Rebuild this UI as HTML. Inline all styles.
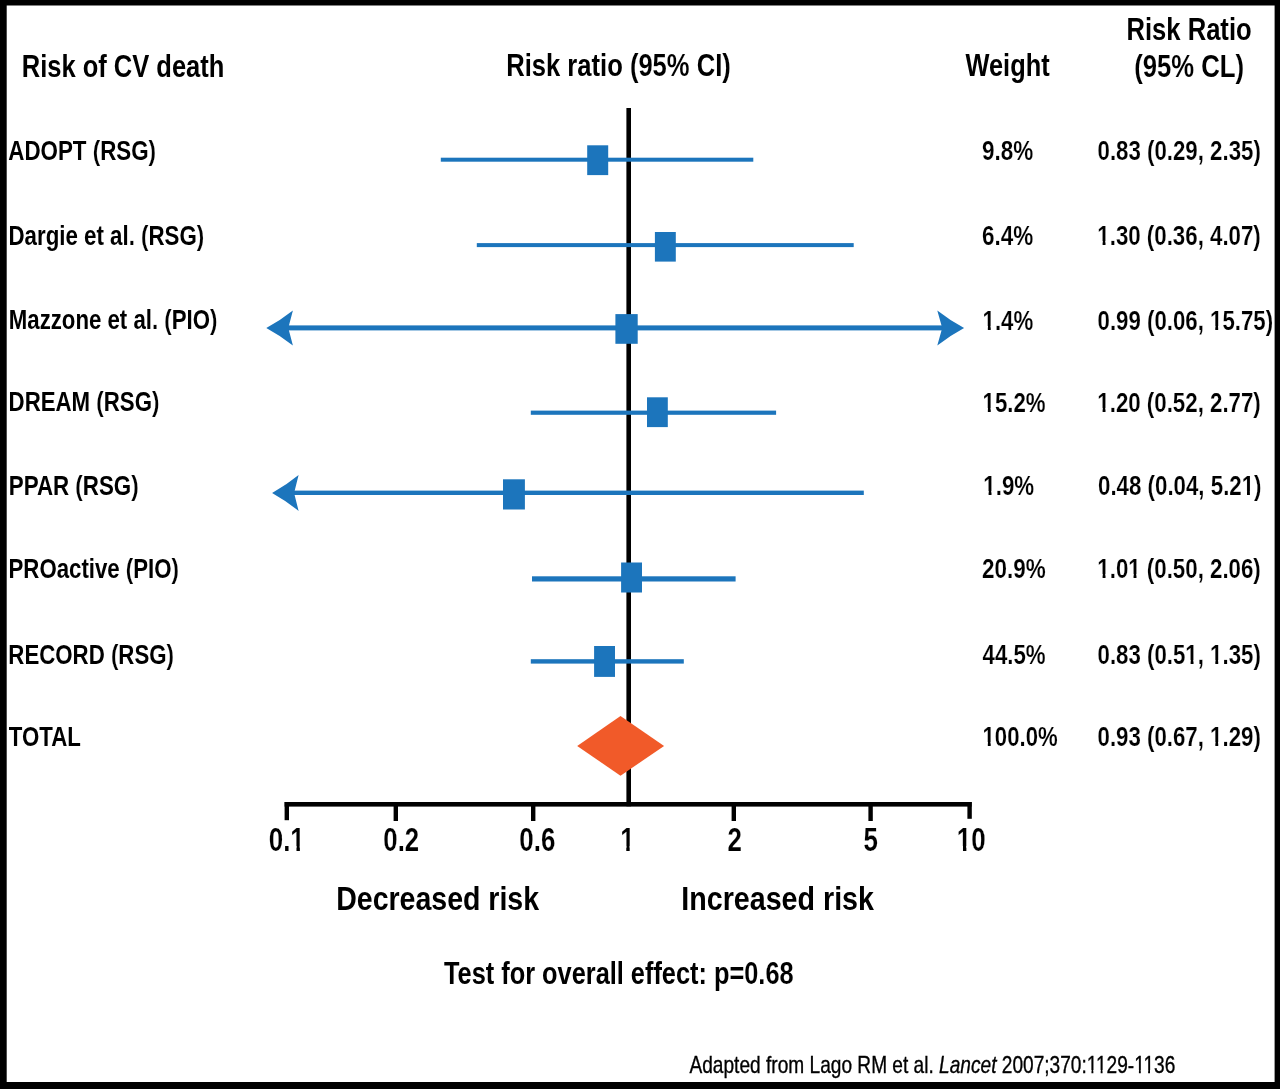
<!DOCTYPE html>
<html lang="en">
<head>
<meta charset="utf-8">
<title>Risk of CV death - forest plot</title>
<style>
html,body{margin:0;padding:0;background:#000;}
body{width:1280px;height:1089px;overflow:hidden;}
svg{display:block;}
text{font-family:"Liberation Sans", sans-serif;fill:#000;font-weight:bold;}
/* hairline white outlines trim the slightly heavy bold digits and brackets */
.c,.d{stroke:#fff;vector-effect:non-scaling-stroke;}
.c{stroke-width:0.1px;}.d{stroke-width:0.16px;}
.n{font-weight:normal;stroke:#000;stroke-width:0.35px;}
.n tspan{font-style:italic;}
</style>
</head>
<body>
<svg width="1280" height="1089" viewBox="0 0 1280 1089" role="img" aria-label="Forest plot: risk of CV death, risk ratio with 95% CI">
<rect x="0" y="0" width="1280" height="1089" fill="#000"/>
<rect x="6.7" y="5.5" width="1267.9" height="1076.5" fill="#fff"/>
<rect x="626.4" y="108" width="4.6" height="698.3" fill="#000"/>
<rect x="284.6" y="802" width="687" height="4.6" fill="#000"/>
<rect x="284.6" y="802" width="4.4" height="18.2" fill="#000"/>
<rect x="393.6" y="802" width="4.4" height="19.0" fill="#000"/>
<rect x="531.0" y="802" width="4.4" height="19.0" fill="#000"/>
<rect x="731.6" y="802" width="4.4" height="19.0" fill="#000"/>
<rect x="868.4" y="802" width="4.4" height="19.0" fill="#000"/>
<rect x="967.4" y="802" width="4.4" height="16.8" fill="#000"/>
<rect x="440.8" y="157.70" width="312.50" height="4.0" fill="#1c75bc"/>
<rect x="587.2" y="145.3" width="21.00" height="29.80" fill="#1c75bc"/>
<rect x="476.8" y="243.10" width="376.90" height="4.0" fill="#1c75bc"/>
<rect x="654.9" y="232.0" width="20.90" height="29.60" fill="#1c75bc"/>
<rect x="288" y="325.40" width="655.00" height="5.0" fill="#1c75bc"/>
<rect x="615.4" y="314.1" width="22.30" height="29.70" fill="#1c75bc"/>
<path d="M266.3 328.0 Q280.8 320.1 292.9 310.5 L288.3 328.0 L292.9 345.5 Q280.8 335.9 266.3 328.0Z" fill="#1c75bc"/>
<path d="M964.1 328.0 Q949.5 320.1 937.3 310.5 L942.2 328.0 L937.3 345.5 Q949.5 335.9 964.1 328.0Z" fill="#1c75bc"/>
<rect x="530.8" y="410.60" width="245.30" height="4.2" fill="#1c75bc"/>
<rect x="647.0" y="397.3" width="20.80" height="29.80" fill="#1c75bc"/>
<rect x="294" y="490.60" width="569.80" height="4.4" fill="#1c75bc"/>
<rect x="503.0" y="479.3" width="21.90" height="30.20" fill="#1c75bc"/>
<path d="M272.1 492.9 Q286.6 484.8 298.6 474.9 L294.1 492.9 L298.6 510.9 Q286.6 501.0 272.1 492.9Z" fill="#1c75bc"/>
<rect x="532.0" y="576.30" width="203.60" height="5.2" fill="#1c75bc"/>
<rect x="621.1" y="562.5" width="20.90" height="30.00" fill="#1c75bc"/>
<rect x="530.8" y="659.20" width="153.00" height="4.4" fill="#1c75bc"/>
<rect x="594.1" y="646.0" width="20.90" height="30.90" fill="#1c75bc"/>
<polygon points="577.2,745.9 620.5,716.1 664.1,745.9 620.5,775.8" fill="#f15a29"/>
<text id="t0" transform="translate(21.81 77.15) scale(0.8148 1)" font-size="31.3">Risk of CV death</text>
<text id="t1" transform="translate(506.26 76.1) scale(0.8329 1)" font-size="30.7">Risk ratio <tspan class="c">(95% </tspan>CI<tspan class="c">)</tspan></text>
<text id="t2" transform="translate(965.50 76.4) scale(0.8321 1)" font-size="30.5">Weight</text>
<text id="t3" transform="translate(1126.50 40.2) scale(0.8393 1)" font-size="30.5">Risk Ratio</text>
<text id="t4" transform="translate(1134.25 76.5) scale(0.8420 1)" font-size="30.5"><tspan class="c">(95% </tspan>CL<tspan class="c">)</tspan></text>
<text id="t5" transform="translate(8.27 159.8) scale(0.8100 1)" font-size="27.6">ADOPT <tspan class="d">(</tspan>RSG<tspan class="d">)</tspan></text>
<text id="t6" transform="translate(982.03 159.8) scale(0.8113 1)" font-size="27.7" class="d">9.8%</text>
<text id="t7" transform="translate(1097.55 159.8) scale(0.8036 1)" font-size="27.7" class="d">0.83 (0.29, 2.35)</text>
<text id="t8" transform="translate(8.53 244.8) scale(0.8225 1)" font-size="27.1">Dargie et al<tspan class="d">. (</tspan>RSG<tspan class="d">)</tspan></text>
<text id="t9" transform="translate(982.03 245.2) scale(0.8113 1)" font-size="27.7" class="d">6.4%</text>
<text id="t10" transform="translate(1097.32 245.2) scale(0.8047 1)" font-size="27.7" class="d">1.30 (0.36, 4.07)</text>
<text id="t11" transform="translate(8.79 328.8) scale(0.8201 1)" font-size="27.1">Mazzone et al<tspan class="d">. (</tspan>PIO<tspan class="d">)</tspan></text>
<text id="t12" transform="translate(982.57 329.6) scale(0.8028 1)" font-size="27.7" class="d">1.4%</text>
<text id="t13" transform="translate(1097.55 329.6) scale(0.8029 1)" font-size="27.7" class="d">0.99 (0.06, 15.75)</text>
<text id="t14" transform="translate(8.56 411.3) scale(0.8068 1)" font-size="27.6">DREAM <tspan class="d">(</tspan>RSG<tspan class="d">)</tspan></text>
<text id="t15" transform="translate(982.56 412.1) scale(0.8038 1)" font-size="27.7" class="d">15.2%</text>
<text id="t16" transform="translate(1097.32 412.1) scale(0.8047 1)" font-size="27.7" class="d">1.20 (0.52, 2.77)</text>
<text id="t17" transform="translate(8.80 495.4) scale(0.8091 1)" font-size="27.6">PPAR <tspan class="d">(</tspan>RSG<tspan class="d">)</tspan></text>
<text id="t18" transform="translate(983.32 495.4) scale(0.8044 1)" font-size="27.7" class="d">1.9%</text>
<text id="t19" transform="translate(1098.04 495.4) scale(0.8049 1)" font-size="27.7" class="d">0.48 (0.04, 5.21)</text>
<text id="t20" transform="translate(8.54 577.8) scale(0.8202 1)" font-size="27.1">PROactive <tspan class="d">(</tspan>PIO<tspan class="d">)</tspan></text>
<text id="t21" transform="translate(982.04 577.8) scale(0.8106 1)" font-size="27.7" class="d">20.9%</text>
<text id="t22" transform="translate(1097.32 577.8) scale(0.8047 1)" font-size="27.7" class="d">1.01 (0.50, 2.06)</text>
<text id="t23" transform="translate(8.31 663.7) scale(0.8064 1)" font-size="27.6">RECORD <tspan class="d">(</tspan>RSG<tspan class="d">)</tspan></text>
<text id="t24" transform="translate(982.52 663.7) scale(0.8043 1)" font-size="27.7" class="d">44.5%</text>
<text id="t25" transform="translate(1097.55 663.7) scale(0.8036 1)" font-size="27.7" class="d">0.83 (0.51, 1.35)</text>
<text id="t26" transform="translate(8.76 746.2) scale(0.8066 1)" font-size="27.6">TOTAL</text>
<text id="t27" transform="translate(982.57 746.4) scale(0.7990 1)" font-size="27.7" class="d">100.0%</text>
<text id="t28" transform="translate(1097.55 746.4) scale(0.8036 1)" font-size="27.7" class="d">0.93 (0.67, 1.29)</text>
<text id="t29" transform="translate(268.75 850.7) scale(0.7900 1)" font-size="32.8" class="d">0.1</text>
<text id="t30" transform="translate(383.32 850.7) scale(0.7852 1)" font-size="32.8" class="d">0.2</text>
<text id="t31" transform="translate(519.32 850.7) scale(0.7898 1)" font-size="32.8" class="d">0.6</text>
<text id="t32" transform="translate(620.15 850.7) scale(0.7900 1)" font-size="32.8" class="d">1</text>
<text id="t33" transform="translate(727.58 850.7) scale(0.7900 1)" font-size="32.8" class="d">2</text>
<text id="t34" transform="translate(863.40 850.7) scale(0.7900 1)" font-size="32.8" class="d">5</text>
<text id="t35" transform="translate(956.85 850.7) scale(0.7900 1)" font-size="32.8" class="d">10</text>
<text id="t36" transform="translate(336.25 910) scale(0.8387 1)" font-size="34">Decreased risk</text>
<text id="t37" transform="translate(681.24 910) scale(0.8429 1)" font-size="34">Increased risk</text>
<text id="t38" transform="translate(444.01 983.8) scale(0.8102 1)" font-size="31.3">Test for overall effect<tspan class="c">: </tspan>p<tspan class="c">=0.68</tspan></text>
<text id="t39" transform="translate(689.50 1073) scale(0.8237 1)" font-size="23.2" class="n">Adapted from Lago RM et al. <tspan>Lancet</tspan> 2007;370:1129-1136</text>
<g fill="#fff">
<rect x="1097.72" y="241" width="4.88" height="5"/>
<rect x="1105.50" y="241" width="4.60" height="5"/>
<rect x="982.97" y="326" width="4.87" height="5"/>
<rect x="990.73" y="326" width="4.59" height="5"/>
<rect x="1210.41" y="326" width="4.87" height="5"/>
<rect x="1218.17" y="326" width="4.59" height="5"/>
<rect x="982.97" y="408" width="4.87" height="5"/>
<rect x="990.74" y="408" width="4.59" height="5"/>
<rect x="1097.72" y="408" width="4.88" height="5"/>
<rect x="1105.50" y="408" width="4.60" height="5"/>
<rect x="983.72" y="491" width="4.88" height="5"/>
<rect x="991.50" y="491" width="4.59" height="5"/>
<rect x="1242.12" y="491" width="4.88" height="5"/>
<rect x="1249.90" y="491" width="4.60" height="5"/>
<rect x="1097.72" y="574" width="4.88" height="5"/>
<rect x="1105.50" y="574" width="4.60" height="5"/>
<rect x="1128.68" y="574" width="4.88" height="5"/>
<rect x="1136.46" y="574" width="4.60" height="5"/>
<rect x="1185.74" y="660" width="4.87" height="5"/>
<rect x="1193.51" y="660" width="4.59" height="5"/>
<rect x="1210.46" y="660" width="4.87" height="5"/>
<rect x="1218.23" y="660" width="4.59" height="5"/>
<rect x="982.97" y="742" width="4.85" height="5"/>
<rect x="990.70" y="742" width="4.57" height="5"/>
<rect x="1210.46" y="742" width="4.87" height="5"/>
<rect x="1218.23" y="742" width="4.59" height="5"/>
<rect x="290.98" y="846" width="5.50" height="6"/>
<rect x="299.87" y="846" width="5.17" height="6"/>
<rect x="620.78" y="846" width="5.50" height="6"/>
<rect x="629.67" y="846" width="5.17" height="6"/>
<rect x="957.48" y="846" width="5.50" height="6"/>
<rect x="966.37" y="846" width="5.17" height="6"/>
<rect x="1087.21" y="1070" width="4.25" height="4"/>
<rect x="1093.35" y="1070" width="4.10" height="4"/>
<rect x="1096.42" y="1070" width="4.25" height="4"/>
<rect x="1102.55" y="1070" width="4.10" height="4"/>
<rect x="1134.66" y="1070" width="4.25" height="4"/>
<rect x="1140.79" y="1070" width="4.10" height="4"/>
<rect x="1143.86" y="1070" width="4.25" height="4"/>
<rect x="1150.00" y="1070" width="4.10" height="4"/>
</g>
</svg>
</body>
</html>
